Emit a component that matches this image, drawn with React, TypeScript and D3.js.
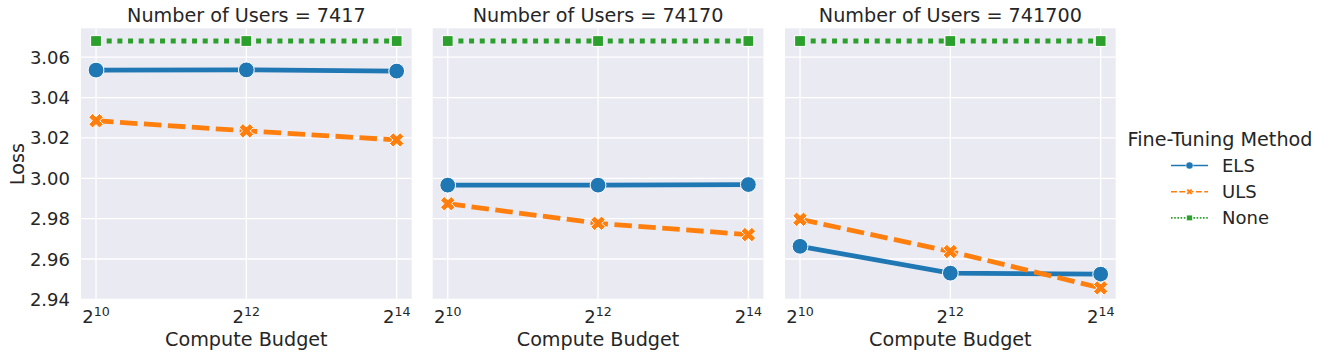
import React, { useEffect, useRef } from "react";
import * as d3 from "d3";

// facet values and x (log2 of compute budget)
const userCounts = [7417, 74170, 741700];
const budgetExp = [10, 12, 14];
const methods = ["ELS", "ULS", "None"];

// loss per facet, per budget
const elsLoss = [
  [3.0536, 3.0537, 3.0531],
  [2.9966, 2.9966, 2.9969],
  [2.9663, 2.953, 2.9525],
];
const ulsLoss = [
  [3.0285, 3.0235, 3.019],
  [2.9874, 2.9777, 2.9721],
  [2.9797, 2.9637, 2.9457],
];
const noneLoss = [
  [3.068, 3.068, 3.068],
  [3.068, 3.068, 3.068],
  [3.068, 3.068, 3.068],
];
const yTicks = [2.94, 2.96, 2.98, 3.0, 3.02, 3.04, 3.06];

const colors = ["#1f77b4", "#ff7f0e", "#2ca02c"];
const dashes = ["none", "17.5,6.5", "5,5.67"];

// filled "X" marker like matplotlib's, as a polygon path
function xMarker(a: number, t: number) {
  const pts = [
    [t, t], [a, t], [a, -t], [t, -t], [t, -a], [-t, -a],
    [-t, -t], [-a, -t], [-a, t], [-t, t], [-t, a], [t, a],
  ];
  const c = Math.SQRT1_2;
  return "M" + pts.map(([px, py]) => `${(px - py) * c},${(px + py) * c}`).join("L") + "Z";
}

export default function App() {
  const ref = useRef<SVGSVGElement>(null);

  useEffect(() => {
    document.body.style.margin = "0";
    const svg = d3.select(ref.current);
    svg.selectAll("*").remove();
    const font = "DejaVu Sans, sans-serif";
    const textCol = "#262626";
    const bigFont = 19.2;
    const tickFont = 18;

    const panelW = 330.7;
    const top = 28.3;
    const bottom = 300;
    const lefts = [81, 432.7, 785];

    const y = d3.scaleLinear().domain([2.9397, 3.0743]).range([bottom, top]);
    const series = [elsLoss, ulsLoss, noneLoss];

    lefts.forEach((left, p) => {
      const x = d3.scaleLinear().domain([9.8, 14.2]).range([left, left + panelW]);
      const g = svg.append("g");

      g.append("rect")
        .attr("x", left).attr("y", top)
        .attr("width", panelW).attr("height", bottom - top)
        .attr("fill", "#eaeaf2");

      g.selectAll(".gy").data(yTicks).enter().append("line")
        .attr("x1", left).attr("x2", left + panelW)
        .attr("y1", d => y(d)).attr("y2", d => y(d))
        .attr("stroke", "white").attr("stroke-width", 1.3);
      g.selectAll(".gx").data(budgetExp).enter().append("line")
        .attr("x1", d => x(d)).attr("x2", d => x(d))
        .attr("y1", top).attr("y2", bottom)
        .attr("stroke", "white").attr("stroke-width", 1.3);

      // title
      g.append("text")
        .attr("x", left + panelW / 2).attr("y", 22)
        .attr("text-anchor", "middle")
        .attr("font-family", font).attr("font-size", bigFont).attr("fill", textCol)
        .text("Number of Users = " + userCounts[p]);

      // x tick labels
      budgetExp.forEach(e => {
        const t = g.append("text")
          .attr("x", x(e)).attr("y", 323)
          .attr("text-anchor", "middle")
          .attr("font-family", font).attr("font-size", tickFont).attr("fill", textCol);
        t.append("tspan").text("2");
        t.append("tspan").attr("dy", -7.5).attr("font-size", 12.6).text(String(e));
      });

      g.append("text")
        .attr("x", left + panelW / 2).attr("y", 346)
        .attr("text-anchor", "middle")
        .attr("font-family", font).attr("font-size", bigFont).attr("fill", textCol)
        .text("Compute Budget");

      if (p === 0) {
        g.selectAll(".yt").data(yTicks).enter().append("text")
          .attr("x", left - 11).attr("y", d => y(d) + 6.5)
          .attr("text-anchor", "end")
          .attr("font-family", font).attr("font-size", tickFont).attr("fill", textCol)
          .text(d => d.toFixed(2));
        g.append("text")
          .attr("transform", `translate(23.5,${(top + bottom) / 2}) rotate(-90)`)
          .attr("text-anchor", "middle")
          .attr("font-family", font).attr("font-size", bigFont).attr("fill", textCol)
          .text("Loss");
      }

      const line = d3.line<number>().x((_, i) => x(budgetExp[i])).y(d => y(d));
      const marks = g.append("g");

      series.forEach((s, k) => {
        marks.append("path")
          .attr("d", line(s[p]))
          .attr("fill", "none")
          .attr("stroke", colors[k])
          .attr("stroke-width", k === 2 ? 5 : 4.8)
          .attr("stroke-dasharray", dashes[k]);
      });

      series.forEach((s, k) => {
        s[p].forEach((v, i) => {
          const cx = x(budgetExp[i]);
          const cy = y(v);
          if (k === 0) {
            marks.append("circle").attr("cx", cx).attr("cy", cy).attr("r", 7.9)
              .attr("fill", colors[k]).attr("stroke", "white").attr("stroke-width", 1);
          } else if (k === 1) {
            marks.append("path").attr("d", xMarker(7.6, 2.7))
              .attr("transform", `translate(${cx},${cy})`)
              .attr("fill", colors[k]).attr("stroke", "white").attr("stroke-width", 1);
          } else {
            marks.append("rect").attr("x", cx - 5.4).attr("y", cy - 5.4)
              .attr("width", 10.8).attr("height", 10.8)
              .attr("fill", colors[k]).attr("stroke", "white").attr("stroke-width", 1);
          }
        });
      });
    });

    // legend
    const lg = svg.append("g");
    lg.append("text")
      .attr("x", 1220).attr("y", 146)
      .attr("text-anchor", "middle")
      .attr("font-family", font).attr("font-size", bigFont).attr("fill", textCol)
      .text("Fine-Tuning Method");
    methods.forEach((m, k) => {
      const ly = 165.5 + k * 26.2;
      lg.append("line")
        .attr("x1", 1171).attr("x2", 1208).attr("y1", ly).attr("y2", ly)
        .attr("stroke", colors[k]).attr("stroke-width", 1.6)
        .attr("stroke-dasharray", k === 0 ? "none" : k === 1 ? "5.9,2.4" : "1.6,1.6");
      if (k === 0) {
        lg.append("circle").attr("cx", 1189.5).attr("cy", ly).attr("r", 3.6)
          .attr("fill", colors[k]).attr("stroke", "white").attr("stroke-width", 0.5);
      } else if (k === 1) {
        lg.append("path").attr("d", xMarker(3.3, 1.1))
          .attr("transform", `translate(1189.5,${ly})`)
          .attr("fill", colors[k]).attr("stroke", "white").attr("stroke-width", 0.5);
      } else {
        lg.append("rect").attr("x", 1186.7).attr("y", ly - 2.8).attr("width", 5.6).attr("height", 5.6)
          .attr("fill", colors[k]).attr("stroke", "white").attr("stroke-width", 0.5);
      }
      lg.append("text")
        .attr("x", 1222).attr("y", ly + 6.5)
        .attr("font-family", font).attr("font-size", tickFont).attr("fill", textCol)
        .text(m);
    });
  }, []);

  return <svg ref={ref} width={1329} height={359} style={{ display: "block" }} />;
}
